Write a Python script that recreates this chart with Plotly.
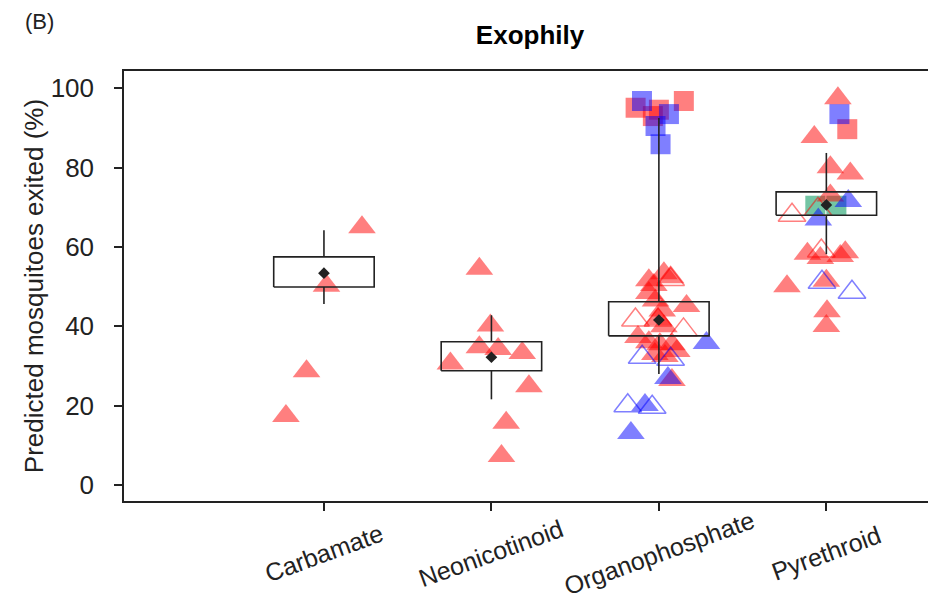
import plotly.graph_objects as go

# ---------------- data ----------------
categories = ["Carbamate", "Neonicotinoid", "Organophosphate", "Pyrethroid"]

# summary box per insecticide class (box = interval, whiskers, mean point)
box_low = [49.9, 28.8, 37.6, 68.0]
box_high = [57.5, 36.1, 46.2, 73.9]
whisker_low = [45.6, 21.6, 28.0, 58.2]
whisker_high = [64.2, 42.8, 92.5, 83.7]
mean_value = [53.4, 32.2, 41.6, 70.6]

# individual predictions: class, jitter, value, group
pt_cat = (
    ["Carbamate"] * 4
    + ["Neonicotinoid"] * 9
    + ["Organophosphate"] * 38
    + ["Pyrethroid"] * 25
)
pt_jitter = [
    # Carbamate
    0.227, 0.015, -0.104, -0.227,
    # Neonicotinoid
    -0.072, -0.006, -0.072, 0.04, 0.184, -0.245, 0.224, 0.088, 0.06,
    # Organophosphate
    -0.139, 0.0, -0.036, 0.149,
    -0.101, 0.06, -0.02, 0.01,
    -0.06, 0.03, 0.07, -0.03, -0.06, -0.02, 0.165, 0.02, -0.005, 0.03,
    -0.125, -0.06, 0.006, 0.078, 0.107, -0.024, 0.036, 0.078,
    0.07, -0.14, -0.005, 0.147,
    0.284, 0.054, -0.083, -0.167,
    -0.1, 0.07, -0.186, -0.04,
    # Pyrethroid
    0.069, -0.072, 0.024, 0.143, 0.024, -0.113, -0.036, 0.083, 0.113, 0.0,
    -0.235, 0.004, 0.0,
    -0.205, -0.05, -0.03,
    0.131, -0.048,
    -0.026, 0.153,
    0.078,
    0.125,
    -0.066, 0.06,
]
pt_value = [
    # Carbamate
    65.0, 50.2, 28.7, 17.4,
    # Neonicotinoid
    54.5, 40.2, 34.7, 34.3, 33.3, 30.6, 24.9, 15.7, 7.3,
    # Organophosphate
    95.1, 94.6, 93.0, 96.8,
    96.8, 93.5, 90.5, 85.9,
    51.6, 53.4, 52.4, 50.4, 48.4, 46.5, 45.1, 44.0, 41.8, 40.0,
    37.3, 36.0, 35.5, 35.5, 33.8, 33.0, 32.5, 26.5,
    51.8, 41.6, 41.6, 39.1,
    35.8, 27.0, 20.2, 13.1,
    32.2, 31.7, 20.0, 19.6,
    # Pyrethroid
    97.5, 87.7, 80.1, 78.5, 73.0, 58.3, 57.2, 57.7, 58.7, 51.5,
    50.1, 43.8, 40.1,
    68.0, 69.5, 59.0,
    71.6, 66.9,
    51.1, 48.6,
    93.5,
    89.7,
    70.4, 70.4,
]
pt_group = (
    ["red_tri"] * 4
    + ["red_tri"] * 9
    + ["red_sq"] * 4 + ["blue_sq"] * 4 + ["red_tri"] * 18
    + ["red_tri_open"] * 4 + ["blue_tri"] * 4 + ["blue_tri_open"] * 4
    + ["red_tri"] * 13 + ["red_tri_open"] * 3 + ["blue_tri"] * 2
    + ["blue_tri_open"] * 2 + ["blue_sq"] + ["red_sq"] + ["green_sq"] * 2
)

# ---------------- styles ----------------
RED = "rgba(255,0,0,0.5)"
BLUE = "rgba(0,0,255,0.5)"
GREEN = "rgba(0,150,90,0.55)"
styles = {
    "red_tri": dict(symbol="triangle-up", color=RED, size=24, line=dict(width=0)),
    "blue_tri": dict(symbol="triangle-up", color=BLUE, size=24, line=dict(width=0)),
    "red_tri_open": dict(symbol="triangle-up-open", color=RED, size=24, line=dict(width=1.5, color=RED)),
    "blue_tri_open": dict(symbol="triangle-up-open", color=BLUE, size=24, line=dict(width=1.5, color=BLUE)),
    "red_sq": dict(symbol="square", color=RED, size=20, line=dict(width=0)),
    "blue_sq": dict(symbol="square", color=BLUE, size=20, line=dict(width=0)),
    "green_sq": dict(symbol="square", color=GREEN, size=20, line=dict(width=0)),
}
draw_order = ["red_sq", "blue_sq", "green_sq", "red_tri", "blue_tri", "red_tri_open", "blue_tri_open"]

cat_pos = {c: i + 1 for i, c in enumerate(categories)}
FONT = "Liberation Sans, Arial, Helvetica, sans-serif"
INK = "#222222"

fig = go.Figure()

for g in draw_order:
    idx = [i for i, k in enumerate(pt_group) if k == g]
    if not idx:
        continue
    fig.add_trace(go.Scatter(
        x=[cat_pos[pt_cat[i]] + pt_jitter[i] for i in idx],
        y=[pt_value[i] for i in idx],
        mode="markers",
        marker=styles[g],
        hoverinfo="y",
    ))

# boxes and whiskers
HALF = 0.3
bx, by = [], []
for i, c in enumerate(categories):
    p = cat_pos[c]
    bx += [p - HALF, p + HALF, p + HALF, p - HALF, p - HALF, None]
    by += [box_low[i], box_low[i], box_high[i], box_high[i], box_low[i], None]
    bx += [p, p, None, p, p, None]
    by += [box_high[i], whisker_high[i], None, box_low[i], whisker_low[i], None]
fig.add_trace(go.Scatter(x=bx, y=by, mode="lines", line=dict(color=INK, width=1.6),
                         hoverinfo="skip"))
fig.add_trace(go.Scatter(
    x=[cat_pos[c] for c in categories], y=mean_value, mode="markers",
    marker=dict(symbol="diamond", size=9, color=INK), hoverinfo="y"))

# rotated category labels centred under ticks
for c in categories:
    fig.add_annotation(x=cat_pos[c], y=-0.12, xref="x", yref="paper",
                       text=c, showarrow=False, textangle=-20,
                       xanchor="center", yanchor="middle",
                       font=dict(size=25, family=FONT, color=INK))

fig.add_annotation(x=-0.1045, y=1.114, xref="paper", yref="paper", text="(B)",
                   showarrow=False, xanchor="center", yanchor="middle",
                   font=dict(size=22, family=FONT, color=INK))

fig.update_layout(
    width=928, height=601,
    margin=dict(l=124, r=0, t=71, b=100),
    paper_bgcolor="white", plot_bgcolor="white",
    showlegend=False,
    font=dict(family=FONT, color=INK, size=26),
    title=dict(text="<b>Exophily</b>", x=0.505, xref="paper", xanchor="center",
               y=1 - 35 / 601, yanchor="middle", font=dict(size=26, family=FONT, color="black")),
)
fig.update_xaxes(
    range=[-0.194, 4.607], tickvals=[1, 2, 3, 4], showticklabels=False,
    ticks="outside", ticklen=8, tickwidth=1.5, tickcolor=INK,
    showline=True, linecolor=INK, linewidth=1.5, mirror=True,
    showgrid=False, zeroline=False,
)
fig.update_yaxes(
    range=[-4.03, 104.36], tickvals=[0, 20, 40, 60, 80, 100],
    ticks="outside", ticklen=8, tickwidth=1.5, tickcolor=INK,
    ticklabelstandoff=15,
    showline=True, linecolor=INK, linewidth=1.5, mirror=False,
    showgrid=False, zeroline=False,
    tickfont=dict(size=26, family=FONT, color=INK),
    title=dict(text="Predicted mosquitoes exited (%)", standoff=0,
               font=dict(size=26, family=FONT, color=INK)),
)

fig.write_html("out.html")
